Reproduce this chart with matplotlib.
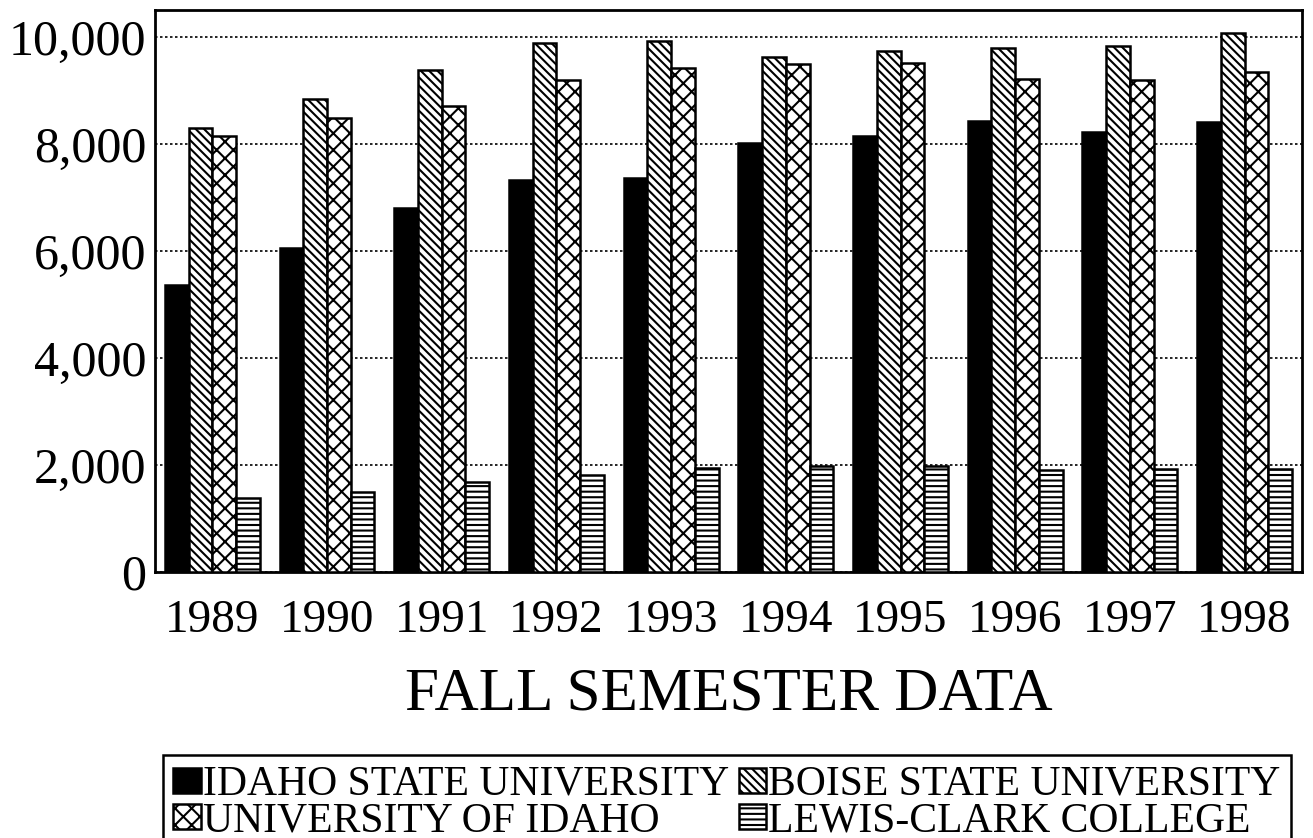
import matplotlib
matplotlib.use("Agg")
import matplotlib.pyplot as plt
import numpy as np
from matplotlib.ticker import FuncFormatter

years = ["1989", "1990", "1991", "1992", "1993", "1994", "1995", "1996", "1997", "1998"]
isu = [5360, 6060, 6800, 7320, 7370, 8020, 8150, 8420, 8220, 8400]
bsu = [8300, 8830, 9380, 9880, 9930, 9620, 9730, 9800, 9820, 10070]
ui = [8150, 8490, 8710, 9190, 9410, 9500, 9510, 9210, 9200, 9340]
lcsc = [1380, 1500, 1680, 1810, 1940, 1980, 1990, 1910, 1930, 1930]
names = ["IDAHO STATE UNIVERSITY", "BOISE STATE UNIVERSITY",
         "UNIVERSITY OF IDAHO", "LEWIS-CLARK COLLEGE"]

plt.rcParams['font.family'] = ['Liberation Serif', 'DejaVu Serif']
plt.rcParams['hatch.linewidth'] = 1.5

fig = plt.figure(figsize=(13.13, 8.38), dpi=100)
ax = fig.add_axes([0.118, 0.3174, 0.8736, 0.6706])

x = np.arange(len(years))
w = 0.207
series = [isu, bsu, ui, lcsc]
styles = [("black", None), ("white", "\\\\\\\\"), ("white", "xx"), ("white", "---")]
handles = []
for i, (vals, (fc, h)) in enumerate(zip(series, styles)):
    b = ax.bar(x + (i - 1.5) * w, vals, w, color=fc, edgecolor="black",
               linewidth=1.8, hatch=h, label=names[i], zorder=3)
    handles.append(b)

ax.set_xlim(-0.5, 9.5)
ax.set_ylim(0, 10500)
ax.set_yticks([0, 2000, 4000, 6000, 8000, 10000])
ax.yaxis.set_major_formatter(FuncFormatter(lambda v, p: f"{int(v):,}"))
ax.set_xticks(x)
ax.set_xticklabels(years)
ax.tick_params(axis="both", length=0)
ax.tick_params(axis="x", pad=20, labelsize=34)
ax.tick_params(axis="y", pad=6, labelsize=36)
ax.yaxis.grid(True, linestyle=(0, (1.5, 1.5)), color="black", linewidth=1.2, zorder=0)
ax.set_axisbelow(True)
for s in ax.spines.values():
    s.set_linewidth(2)

ax.set_xlabel("FALL SEMESTER DATA", fontsize=44, labelpad=18)

# column-wise fill -> reorder so rows read ISU, BSU / UI, LCSC
order = [0, 2, 1, 3]
leg = fig.legend(handles=[handles[k] for k in order], labels=[names[k] for k in order],
                 loc="upper left", ncol=2,
                 bbox_to_anchor=(163 / 1313, 1 - 755 / 838),
                 fontsize=30, frameon=True, fancybox=False, edgecolor="black",
                 framealpha=1, handlelength=0.65, handleheight=0.55,
                 handletextpad=0.05, columnspacing=0.25, borderpad=0.25,
                 labelspacing=-0.05, borderaxespad=0)
leg.get_frame().set_linewidth(1.8)

fig.savefig("out.png", dpi=100)
